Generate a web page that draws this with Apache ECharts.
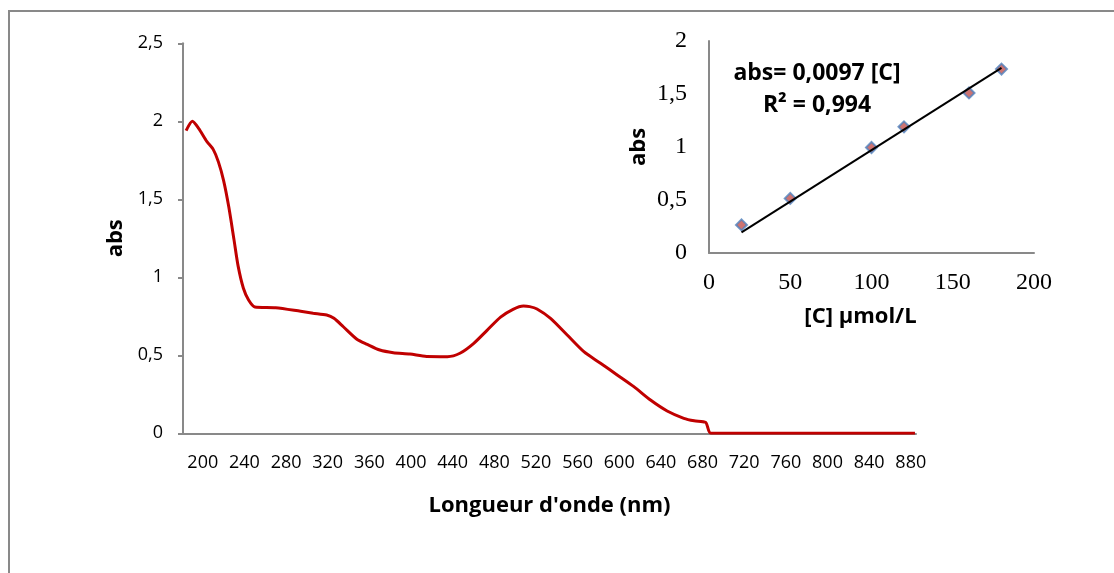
<!DOCTYPE html>
<html>
<head>
<meta charset="utf-8">
<script src="https://cdn.jsdelivr.net/npm/echarts@6/dist/echarts.min.js"></script>
<style>
html,body{margin:0;padding:0;background:#fff;}
#chart{width:1114px;height:573px;}
</style>
</head>
<body>
<div id="chart"></div>
<script>
// Main spectrum
var wavelength = [184,190,196,204,210,215,220,225,230,234,239,244,250,270,294,306,319,326,335,348,358,370,383,399,415,435,447,460,473,486,498,508,514,521,534,550,566,582,598,614,630,646,662,672,683,688,884];
var absorbance = [1.94,2.00,1.955,1.87,1.82,1.74,1.62,1.45,1.24,1.07,0.93,0.855,0.81,0.805,0.782,0.77,0.758,0.737,0.683,0.603,0.57,0.534,0.517,0.508,0.492,0.491,0.513,0.575,0.66,0.745,0.795,0.816,0.812,0.797,0.737,0.63,0.523,0.449,0.374,0.299,0.213,0.143,0.096,0.08,0.07,0,0];
var xTickLabels = [200,240,280,320,360,400,440,480,520,560,600,640,680,720,760,800,840,880];

// Inset calibration
var concentration = [20,50,100,120,160,180];
var calibAbs = [0.265,0.515,0.995,1.19,1.51,1.735];
var trendX = [20,180];
var trendY = [0.194,1.746];
var equationText = 'abs= 0,0097 [C]';
var r2Text = 'R² = 0,994';

function comma(v){ return String(v).replace('.', ','); }
function zip(a,b){ return a.map(function(v,i){ return [v,b[i]]; }); }

var chart = echarts.init(document.getElementById('chart'), null, {renderer:'canvas'});
var axisGray = '#898989';
chart.setOption({
  animation:false,
  backgroundColor:'#fff',
  graphic:[
    {type:'rect', shape:{x:9,y:11,width:1200,height:700}, style:{fill:'none',stroke:axisGray,lineWidth:2}, z:-1},
    {type:'text', x:817, y:73, style:{text:equationText, fontFamily:'Open Sans', fontWeight:'bold', fontSize:23, fill:'#000', textAlign:'center', textVerticalAlign:'middle'}},
    {type:'text', x:817, y:105, style:{text:r2Text, fontFamily:'Open Sans', fontWeight:'bold', fontSize:23, fill:'#000', textAlign:'center', textVerticalAlign:'middle'}}
  ],
  grid:[
    {left:183, right:198, top:43.3, bottom:139.7},
    {left:709, right:80, top:41, bottom:320}
  ],
  xAxis:[
    {type:'value', gridIndex:0, min:181, max:885,
     name:"Longueur d'onde (nm)", nameLocation:'middle', nameGap:61,
     nameTextStyle:{fontFamily:'Open Sans', fontWeight:'bold', fontSize:22, color:'#000'},
     axisLine:{show:true, lineStyle:{color:axisGray, width:2}},
     axisTick:{show:false},
     splitLine:{show:false},
     axisLabel:{customValues:xTickLabels, fontFamily:'Open Sans', fontSize:18, color:'#000', margin:21}},
    {type:'value', gridIndex:1, min:0, max:200, interval:50,
     name:'[C] µmol/L', nameLocation:'middle', nameGap:53,
     nameTextStyle:{fontFamily:'Open Sans', fontWeight:'bold', fontSize:22, color:'#000', padding:[0,22,0,0]},
     axisLine:{show:true, lineStyle:{color:axisGray, width:2}},
     axisTick:{show:false},
     splitLine:{show:false},
     axisLabel:{fontFamily:'Liberation Serif', fontSize:24, color:'#000', margin:18}}
  ],
  yAxis:[
    {type:'value', gridIndex:0, min:0, max:2.5, interval:0.5,
     name:'abs', nameLocation:'middle', nameGap:55,
     nameTextStyle:{fontFamily:'Open Sans', fontWeight:'bold', fontSize:22, color:'#000'},
     axisLine:{show:true, lineStyle:{color:axisGray, width:2}},
     axisTick:{show:true, length:5, lineStyle:{color:axisGray, width:2}},
     splitLine:{show:false},
     axisLabel:{formatter:comma, fontFamily:'Open Sans', fontSize:18, color:'#000', margin:20}},
    {type:'value', gridIndex:1, min:0, max:2, interval:0.5,
     name:'abs', nameLocation:'middle', nameGap:59,
     nameTextStyle:{fontFamily:'Open Sans', fontWeight:'bold', fontSize:22, color:'#000'},
     axisLine:{show:true, lineStyle:{color:axisGray, width:2}},
     axisTick:{show:false},
     splitLine:{show:false},
     axisLabel:{formatter:comma, fontFamily:'Liberation Serif', fontSize:24, color:'#000', margin:22}}
  ],
  series:[
    {type:'line', xAxisIndex:0, yAxisIndex:0, data:zip(wavelength, absorbance),
     symbol:'none', smooth:0.25, lineStyle:{color:'#C00000', width:3}, z:3},
    {type:'scatter', xAxisIndex:1, yAxisIndex:1, data:zip(concentration, calibAbs),
     symbol:'diamond', symbolSize:11,
     itemStyle:{color:'#C0504D', borderColor:'#4F81BD', borderWidth:2}, z:3},
    {type:'line', xAxisIndex:1, yAxisIndex:1, data:zip(trendX, trendY),
     symbol:'none', lineStyle:{color:'#000', width:2}, z:4}
  ]
});
</script>
</body>
</html>
